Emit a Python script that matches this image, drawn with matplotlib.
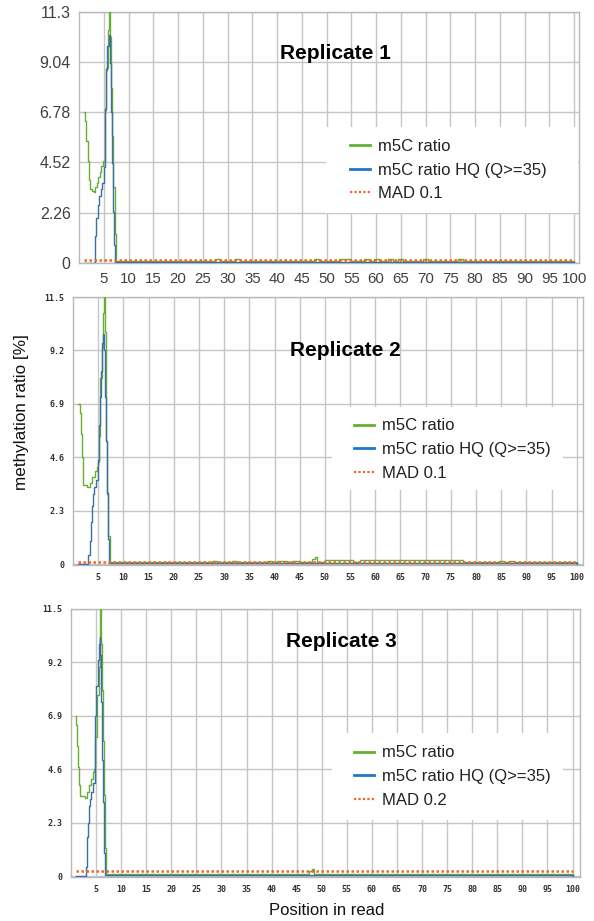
import matplotlib.pyplot as plt
from matplotlib.lines import Line2D
from matplotlib.patches import Rectangle

# ---- data (position in read, methylation ratio %) ----
# replicate 1
r1_green_x = [1.0, 1.2, 1.5, 1.8, 2.0, 2.2, 2.7, 3.1, 3.3, 3.6, 3.9, 4.2, 4.5, 4.8, 5.15, 5.55,
              5.8, 6.0, 6.2, 6.45, 6.7, 6.9, 7.2, 7.45,
              27.5, 28.5, 31.5, 32.5, 47.5, 48.5, 52.5, 55.0, 57.5, 58.5, 59.5, 60.5, 62.5, 63.5,
              64.5, 65.5, 69.5, 70.5, 76.5, 77.5, 100.0]
r1_green_y = [6.8, 6.4, 5.5, 4.6, 3.75, 3.3, 3.25, 3.2, 3.4, 3.6, 3.85, 4.1, 4.35, 4.6, 7.0, 8.8,
              10.5, 11.3, 10.2, 7.9, 5.7, 3.4, 1.3, 0.05,
              0.17, 0.05, 0.17, 0.05, 0.15, 0.05, 0.15, 0.05, 0.15, 0.05, 0.15, 0.05, 0.15, 0.05,
              0.15, 0.05, 0.15, 0.05, 0.15, 0.05, 0.0]
r1_blue_x = [1.0, 3.15, 3.3, 3.5, 3.9, 4.1, 4.4, 4.7, 4.95, 5.25, 5.55, 5.75, 6.0, 6.35, 6.55,
             6.75, 6.95, 7.15, 7.35, 100.0]
r1_blue_y = [0.0, 0.4, 1.2, 2.0, 2.6, 3.0, 3.3, 3.6, 4.3, 6.9, 8.7, 9.8, 10.3, 9.0, 6.8,
             4.5, 2.3, 0.8, 0.03, 0.0]
r1_mad = 0.1

# replicate 2
r2_green_x = [1.05, 1.4, 1.6, 1.8, 2.05, 2.85, 3.3, 3.8, 4.3, 4.7, 5.0, 5.2, 5.4, 5.7, 5.9, 6.15,
              6.36, 6.5, 6.56, 6.82, 7.0, 7.36,
              27.5, 28.5, 31.5, 32.5, 38.5, 39.5, 40.5, 42.5, 43.5, 45.0, 47.5, 48.0, 48.5, 50.0,
              55.5, 57.0, 77.5, 84.5, 85.5, 86.5, 87.5, 100.0]
r2_green_y = [6.9, 6.5, 5.6, 4.6, 3.4, 3.3, 3.5, 3.75, 4.0, 4.2, 4.4, 5.5, 8.0, 9.3, 10.8, 11.5,
              10.0, 7.0, 5.3, 3.1, 1.2, 0.07,
              0.15, 0.07, 0.15, 0.07, 0.15, 0.07, 0.15, 0.07, 0.15, 0.07, 0.2, 0.3, 0.07, 0.17,
              0.07, 0.17, 0.07, 0.15, 0.07, 0.15, 0.07, 0.0]
r2_blue_x = [1.05, 3.05, 3.3, 3.5, 3.7, 3.9, 4.2, 4.6, 5.0, 5.2, 5.4, 5.6, 5.8, 6.0, 6.2, 6.35,
             6.5, 6.7, 6.9, 7.2, 100.0]
r2_blue_y = [0.0, 0.4, 1.0, 1.8, 2.5, 3.0, 3.3, 3.6, 4.5, 6.0, 7.2, 8.3, 9.5, 9.9, 9.2, 7.2,
             5.3, 3.0, 1.1, 0.03, 0.0]
r2_mad = 0.1

# replicate 3
r3_green_x = [1.0, 1.1, 1.27, 1.45, 1.65, 1.85, 2.85, 3.2, 3.6, 4.0, 4.4, 4.66, 4.86, 5.2, 5.53,
              5.73, 5.86, 6.06, 6.2, 6.33, 6.5, 6.66, 6.86, 7.0,
              47.5, 48.0, 48.5, 100.0]
r3_green_y = [6.9, 6.5, 5.6, 4.7, 3.9, 3.45, 3.35, 3.6, 3.9, 4.2, 4.5, 4.6, 6.0, 7.8, 9.0,
              10.2, 11.5, 10.0, 8.0, 5.8, 4.9, 3.5, 1.2, 0.1,
              0.2, 0.3, 0.1, 0.0]
r3_blue_x = [1.0, 3.0, 3.1, 3.27, 3.4, 3.6, 3.8, 4.06, 4.4, 4.7, 4.86, 5.05, 5.3, 5.5, 5.7, 5.86,
             6.0, 6.15, 6.35, 6.55, 6.8, 7.0, 100.0]
r3_blue_y = [0.0, 0.4, 1.0, 1.7, 2.3, 3.0, 3.3, 3.6, 4.0, 5.6, 6.9, 8.2, 9.3, 10.0, 10.3, 9.5,
             7.5, 5.0, 3.2, 1.0, 0.06, 0.04, 0.0]
r3_mad = 0.2

mad_span = [1, 100]
x_ticks = list(range(5, 101, 5))
r1_yticks = [0, 2.26, 4.52, 6.78, 9.04, 11.3]
r1_ylabels = ['0', '2.26', '4.52', '6.78', '9.04', '11.3']
r23_yticks = [0, 2.3, 4.6, 6.9, 9.2, 11.5]
r23_ylabels = ['0', '2.3', '4.6', '6.9', '9.2', '11.5']
legend_labels = ['m5C ratio', 'm5C ratio HQ (Q>=35)']

GREEN = '#63b032'
BLUE = '#3c6fa8'
ORANGE = '#f26522'
GRID = '#c6c6c6'
SANS = ['Liberation Sans', 'DejaVu Sans']

fig = plt.figure(figsize=(5.94, 9.21), dpi=100)


def draw_panel(rect, gx, gy, bx, by, mad, yticks, ylabels, xmax, title, title_xy,
               leg_box, leg_anchor, big_ticks):
    ax = fig.add_axes(rect)
    ax.plot(gx, gy, color=GREEN, lw=1.0, drawstyle='steps-post', zorder=3)
    ax.plot(bx, by, color=BLUE, lw=1.0, drawstyle='steps-post', zorder=4)
    ax.plot(mad_span, [mad, mad], color=ORANGE, lw=1.8, ls=(0, (1, 1)), zorder=5)

    ax.set_xlim(0, xmax)
    ax.set_ylim(-0.04, yticks[-1])
    ax.set_xticks(x_ticks)
    ax.set_yticks(yticks)
    ax.set_yticklabels(ylabels)
    ax.grid(True, color=GRID, lw=1.0, zorder=0)
    ax.set_axisbelow(True)
    for s in ax.spines.values():
        s.set_color('#b8b8b8')
        s.set_linewidth(1.0)
    if big_ticks:
        ax.tick_params(length=0, pad=6, labelcolor='#404040')
        ax.tick_params(axis='x', labelsize=10.8)
        ax.tick_params(axis='y', labelsize=11.5)
        for lab in ax.get_xticklabels() + ax.get_yticklabels():
            lab.set_family(SANS)
    else:
        ax.tick_params(length=0, pad=6, labelsize=6, labelcolor='#303030')
        for lab in ax.get_xticklabels() + ax.get_yticklabels():
            lab.set_family('DejaVu Sans Mono')
            lab.set_fontweight('bold')

    ax.text(title_xy[0], title_xy[1], title, transform=ax.transAxes, ha='center',
            va='center', fontsize=15, fontweight='bold', family=SANS, zorder=7)

    # white legend box that hides the grid
    x0, y0, x1, y1 = leg_box
    ax.add_patch(Rectangle((x0, y0), x1 - x0, y1 - y0, transform=ax.transAxes,
                           facecolor='white', edgecolor='none', zorder=6))
    handles = [Line2D([], [], color=GREEN, lw=2.0),
               Line2D([], [], color='#1f78c8', lw=2.0),
               Line2D([], [], color=ORANGE, lw=1.6, ls=(0, (1, 1)))]
    labels = legend_labels + ['MAD %.1f' % mad]
    leg = ax.legend(handles, labels, loc='upper left', bbox_to_anchor=leg_anchor,
                    frameon=False, borderpad=0, borderaxespad=0, handlelength=1.2,
                    handletextpad=0.45, labelspacing=0.52,
                    prop={'family': SANS, 'size': 12})
    leg.set_zorder(8)
    for t in leg.get_texts():
        t.set_color('#222222')
    return ax


draw_panel([0.133, 0.714, 0.842, 0.2725], r1_green_x, r1_green_y, r1_blue_x, r1_blue_y,
           r1_mad, r1_yticks, r1_ylabels, 101.0, 'Replicate 1', (0.512, 0.837),
           (0.494, 0.199, 0.998, 0.542), (0.542, 0.496), True)
draw_panel([0.123, 0.3865, 0.859, 0.291], r2_green_x, r2_green_y, r2_blue_x, r2_blue_y,
           r2_mad, r23_yticks, r23_ylabels, 101.3, 'Replicate 2', (0.533, 0.80),
           (0.508, 0.28, 0.961, 0.59), (0.551, 0.547), False)
draw_panel([0.1195, 0.0478, 0.857, 0.291], r3_green_x, r3_green_y, r3_blue_x, r3_blue_y,
           r3_mad, r23_yticks, r23_ylabels, 101.5, 'Replicate 3', (0.532, 0.877),
           (0.513, 0.213, 0.967, 0.537), (0.556, 0.491), False)

fig.text(22 / 594, 1 - 412 / 921, 'methylation ratio [%]', rotation=90, ha='center',
         va='center', fontsize=12.3, family=SANS, color='#111111')
fig.text(327 / 594, 1 - 910 / 921, 'Position in read', ha='center', va='center',
         fontsize=12, family=SANS, color='#111111')

fig.savefig('out.png', dpi=100)
